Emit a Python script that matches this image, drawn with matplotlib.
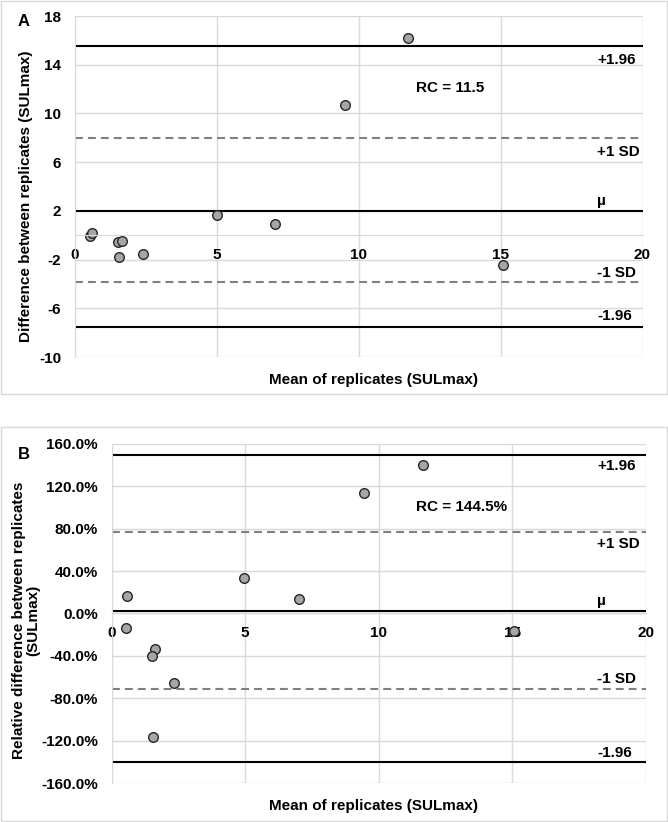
import matplotlib.pyplot as plt
from matplotlib.patches import Rectangle
from matplotlib.ticker import FuncFormatter

plt.rcParams['font.family'] = ['Liberation Sans', 'DejaVu Sans']
plt.rcParams['font.weight'] = 'bold'
plt.rcParams['font.size'] = 11
plt.rcParams['axes.unicode_minus'] = False

# panel A: absolute differences
mean_a = [0.53, 0.59, 1.53, 1.67, 1.55, 2.38, 5.0, 7.06, 9.52, 11.74, 15.08]
diff_a = [-0.04, 0.16, -0.58, -0.47, -1.81, -1.54, 1.66, 0.95, 10.67, 16.22, -2.44]
lines_a = [15.56, 7.95, 2.02, -3.87, -7.53]
label_y_a = [14.4, 6.86, 2.8, -3.13, -6.63]

# panel B: relative differences (%)
mean_b = [0.56, 0.54, 1.64, 1.50, 2.34, 1.54, 4.96, 7.02, 9.47, 11.67, 15.08]
rel_b = [16.2, -13.7, -33.1, -40.0, -65.2, -116.6, 33.7, 13.7, 113.2, 139.6, -16.2]
lines_b = [149.6, 76.8, 2.6, -70.8, -139.9]
label_y_b = [138.9, 65.2, 11.8, -62.0, -131.0]

line_names = ['+1.96', '+1 SD', 'µ', '-1 SD', '-1.96']
line_dashed = [False, True, False, True, False]

W, H = 668, 822
fig = plt.figure(figsize=(W / 100, H / 100), dpi=100)

# chart area borders
for y0, y1 in [(1, 394), (427, 821)]:
    fig.add_artist(Rectangle((1 / W, 1 - y1 / H), 666 / W, (y1 - y0) / H,
                             transform=fig.transFigure, fill=False,
                             edgecolor='#D9D9D9', lw=1))


def panel(ax, xs, ys, lines, label_y, label_x, ylim, yticks, rc_text, rc_pos):
    ax.set_xlim(0, 20)
    ax.set_ylim(*ylim)
    ax.set_xticks([0, 5, 10, 15, 20])
    ax.set_yticks(yticks)
    ax.grid(True, color='#D9D9D9', lw=1)
    ax.set_axisbelow(True)
    for s in ['top', 'right']:
        ax.spines[s].set_visible(False)
    ax.spines['bottom'].set_position(('data', 0))
    ax.spines['bottom'].set_color('#D9D9D9')
    ax.spines['left'].set_color('#D9D9D9')
    ax.tick_params(length=0)
    ax.tick_params(axis='x', pad=9)
    ax.tick_params(axis='y', pad=10)
    for v, dashed in zip(lines, line_dashed):
        if dashed:
            ax.axhline(v, color='#808080', lw=1.5, dashes=(3.8, 2.4), zorder=2)
        else:
            ax.axhline(v, color='black', lw=1.5, zorder=2)
    for name, ly in zip(line_names, label_y):
        ax.text(label_x, ly, name, ha='left', va='center', fontweight='bold')
    ax.scatter(xs, ys, s=48, color='#A6A6A6', edgecolors='#262626',
               linewidths=1.0, zorder=2.2)
    ax.text(rc_pos[0], rc_pos[1], rc_text, ha='left', va='center', fontweight='bold')


ax1 = fig.add_axes([75 / W, 1 - 357 / H, 567.5 / W, 341 / H])
panel(ax1, mean_a, diff_a, lines_a, label_y_a, 18.4, (-10, 18),
      [-10, -6, -2, 2, 6, 10, 14, 18], 'RC = 11.5', (12.0, 12.1))
ax1.set_ylabel('Difference between replicates (SULmax)', fontweight='bold')
ax1.yaxis.set_label_coords(-0.074, 0.47)
ax1.set_xlabel('Mean of replicates (SULmax)', fontweight='bold')
ax1.xaxis.set_label_coords(0.526, -0.046)

ax2 = fig.add_axes([111.7 / W, 1 - 783.3 / H, 533.8 / W, 339.6 / H])
panel(ax2, mean_b, rel_b, lines_b, label_y_b, 18.2, (-160, 160),
      [-160, -120, -80, -40, 0, 40, 80, 120, 160], 'RC = 144.5%', (11.4, 100.3))
ax2.yaxis.set_major_formatter(FuncFormatter(lambda v, p: f'{v:.1f}%'))
ax2.set_ylabel('Relative difference between replicates\n(SULmax)', fontweight='bold',
               linespacing=1.0)
ax2.yaxis.set_label_coords(-0.134, 0.48)
ax2.set_xlabel('Mean of replicates (SULmax)', fontweight='bold')
ax2.xaxis.set_label_coords(0.49, -0.047)

fig.text(24 / W, 1 - 21 / H, 'A', ha='center', va='center', fontsize=12, fontweight='bold')
fig.text(24 / W, 1 - 454 / H, 'B', ha='center', va='center', fontsize=12, fontweight='bold')

fig.savefig('out.png', dpi=100)
